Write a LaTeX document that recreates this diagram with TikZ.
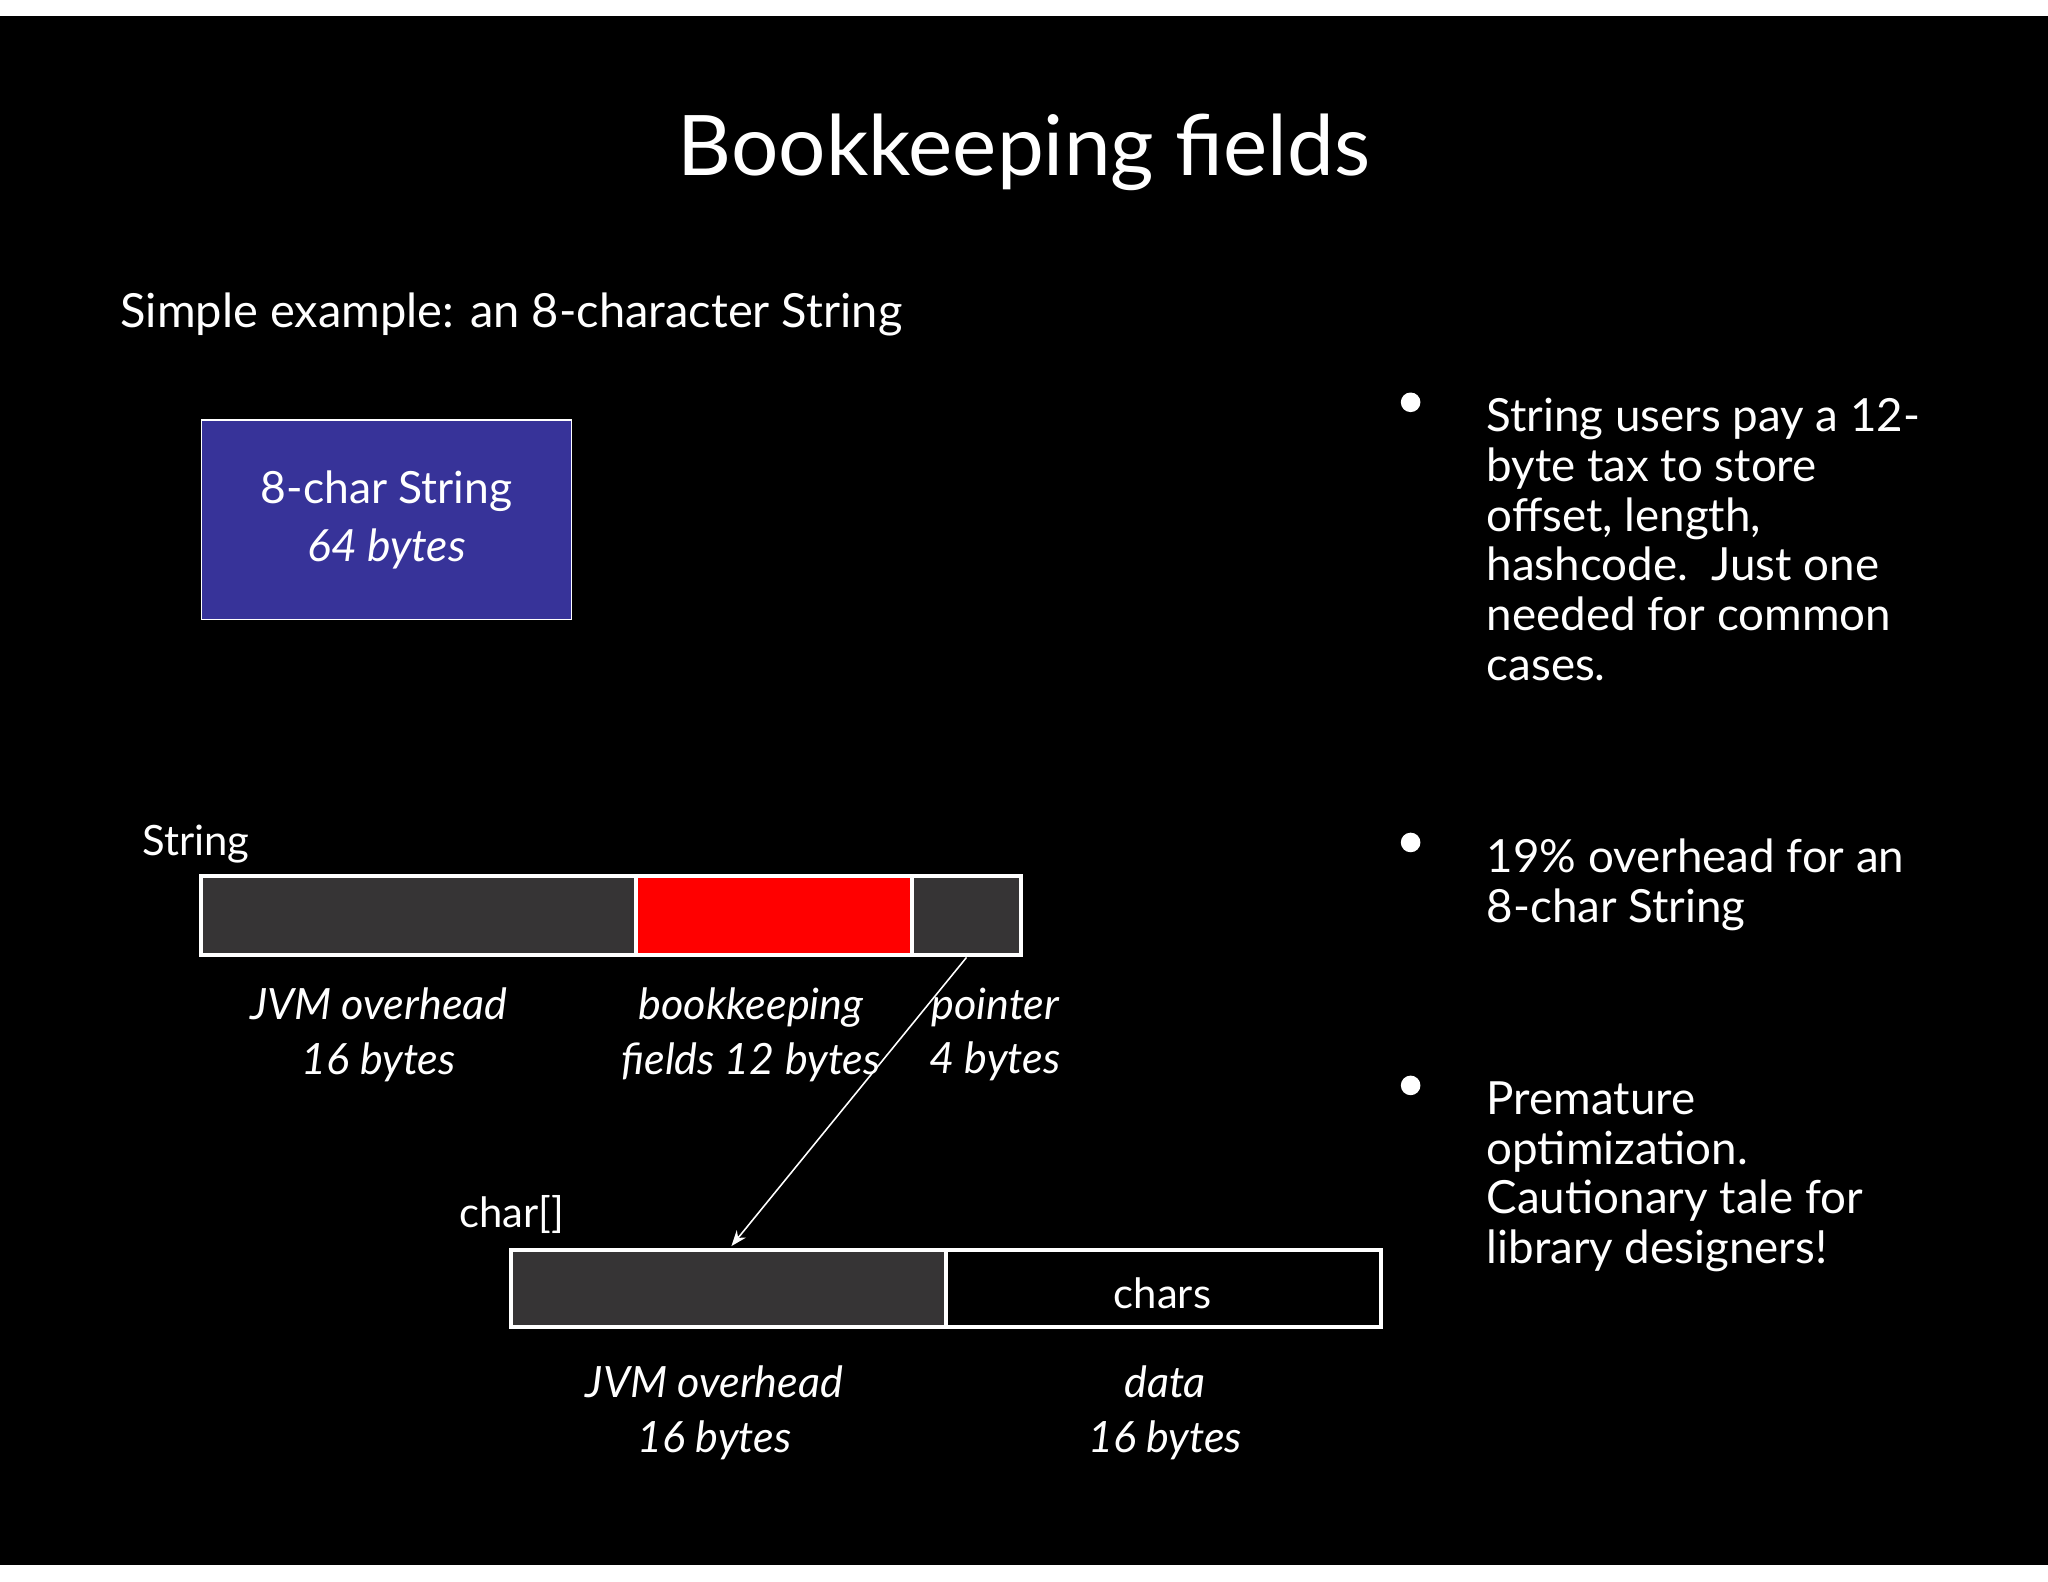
\documentclass[tikz,border=0pt]{standalone}
\usepackage{fontspec}
\setmainfont{Lato}
\usetikzlibrary{arrows.meta}
\definecolor{boxblue}{HTML}{373399}
\definecolor{dgray}{HTML}{363435}
\begin{document}
\begin{tikzpicture}[x=1pt,y=-1pt,
  txt/.style={text=white,inner sep=0pt},
  lbl/.style={txt,font=\fontsize{33}{42}\selectfont\itshape,align=center},
  btxt/.style={txt,font=\fontsize{35}{38}\selectfont,align=left,anchor=north west},
  seg/.style={draw=white,line width=3pt},
  dot/.style={circle,fill=white,inner sep=0pt,minimum size=15pt}]
\useasboundingbox (0,0) rectangle (1568,1211);
\fill[white] (0,0) rectangle (1568,1211);
\fill[black] (0,12) rectangle (1568,1198);
\node[txt,font=\fontsize{64}{70}\selectfont] (title) at (784,117) {Bookkeeping fields};
\node[txt,anchor=west,font=\fontsize{36}{40}\selectfont] (sub) at (92,241) {Simple example: an 8-character String};
\node[draw=white,fill=boxblue,line width=1pt,minimum width=283pt,minimum height=153pt,anchor=north west,text=white,align=center,font=\fontsize{34}{44}\selectfont] (blue) at (154,321) {8-char String\\ \itshape 64 bytes};
\node[txt,anchor=west,font=\fontsize{32}{38}\selectfont] (slab) at (109,646) {String};
\draw[seg,fill=dgray] (154,671) rectangle (487,731);
\draw[seg,fill=red] (487,671) rectangle (698,731);
\draw[seg,fill=dgray] (698,671) rectangle (782,731);
\coordinate (ptr) at (740,733);
\node[lbl] (l1) at (290,792) {JVM overhead\\16 bytes};
\node[lbl] (l2) at (575,792) {bookkeeping\\fields 12 bytes};
\node[lbl] (l3) at (762,792) {pointer\\4 bytes};
\node[txt,anchor=east,font=\fontsize{32}{38}\selectfont] (clab) at (432,930) {char[]};
\draw[seg,fill=dgray] (391,957) rectangle (724,1016);
\draw[seg,fill=black] (724,957) rectangle (1057,1016);
\node[txt,font=\fontsize{32}{38}\selectfont] (chars) at (890,990) {chars};
\coordinate (arr) at (560,954);
\draw[white,line width=1.2pt,-{Stealth[length=12pt,width=9pt]}] (ptr) -- (arr);
\node[lbl] (l4) at (547,1082) {JVM overhead\\16 bytes};
\node[lbl] (l5) at (892,1082) {data\\16 bytes};
\node[dot] (b1) at (1080,308) {};
\node[dot] (b2) at (1080,645) {};
\node[dot] (b3) at (1080,831) {};
\node[btxt] (t1) at (1138,305) {String users pay a 12-\\byte tax to store\\offset, length,\\hashcode.\ \ Just one\\needed for common\\cases.};
\node[btxt] (t2) at (1138,642) {19\% overhead for an\\8-char String};
\node[btxt] (t3) at (1138,828) {Premature\\optimization.\\Cautionary tale for\\library designers!};
\end{tikzpicture}
\end{document}
